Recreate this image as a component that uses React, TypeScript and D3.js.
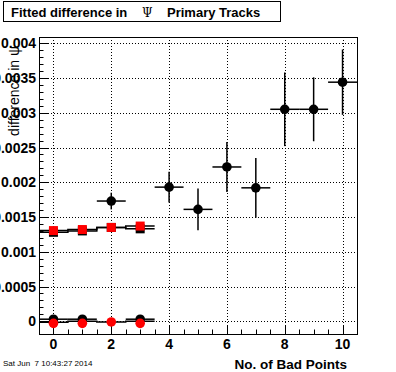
import React, { useEffect, useRef } from 'react';
import * as d3 from 'd3';

// bins 0..3 (two fits on the low side)
const lowBins = [0, 1, 2, 3];
const redSquare = [0.001305, 0.00132, 0.00135, 0.00137];
const blackSquare = [0.00128, 0.0013, 0.00135, 0.00133];
const redCircle = [-0.00003, -0.00003, -0.00001, -0.00003];
const redCircleHist = [-0.000015, 0.0, -0.00001, 0.0];

// black points, all bins
const bins = [0, 1, 2, 3, 4, 5, 6, 7, 8, 9, 10];
const blackCircle = [0.00003, 0.00003, 0.00173, 0.00003, 0.00193, 0.00161, 0.00222, 0.00192, 0.00305, 0.00305, 0.00344];
const blackCircleErr = [0.00001, 0.00001, 0.00012, 0.00001, 0.00022, 0.0003, 0.00036, 0.00043, 0.00053, 0.00046, 0.00047];

const xTicks = [0, 2, 4, 6, 8, 10];
const yTicks = [0, 0.0005, 0.001, 0.0015, 0.002, 0.0025, 0.003, 0.0035, 0.004];

const FONT = 'Liberation Sans, Arial, Helvetica, sans-serif';

const Chart = () => {
    const svgRef = useRef<SVGSVGElement>(null);

    useEffect(() => {
        const svg = d3.select(svgRef.current);
        svg.selectAll('*').remove();

        const left = 39, right = 357, top = 37, bottom = 334;

        const x = d3.scaleLinear().domain([-0.5, 10.5]).range([left, right]);
        const y = d3.scaleLinear().domain([-0.000183, 0.00409]).range([bottom, top]);

        svg.append('rect').attr('width', 396).attr('height', 372).attr('fill', '#fff');

        // grid
        const grid = svg.append('g').attr('stroke', '#000').attr('stroke-dasharray', '1,2').attr('stroke-width', 1);
        xTicks.forEach(t => {
            grid.append('line').attr('x1', Math.round(x(t)) + 0.5).attr('x2', Math.round(x(t)) + 0.5)
                .attr('y1', top).attr('y2', bottom);
        });
        yTicks.forEach(t => {
            grid.append('line').attr('y1', Math.round(y(t)) + 0.5).attr('y2', Math.round(y(t)) + 0.5)
                .attr('x1', left).attr('x2', right);
        });

        // ticks
        const ticks = svg.append('g').attr('stroke', '#000').attr('stroke-width', 1);
        d3.range(0, 0.00409, 0.0001).forEach((t, i) => {
            const major = i % 5 === 0;
            const yy = Math.round(y(t)) + 0.5;
            ticks.append('line').attr('x1', left).attr('x2', left + (major ? 9 : 4.5)).attr('y1', yy).attr('y2', yy);
        });
        d3.range(-0.5, 10.51, 0.5).forEach(t => {
            const major = Math.abs(t % 2) < 1e-9;
            const xx = Math.round(x(t)) + 0.5;
            ticks.append('line').attr('x1', xx).attr('x2', xx).attr('y1', bottom).attr('y2', bottom - (major ? 9 : 4.5));
        });

        // tick labels
        svg.append('g').selectAll('text').data(yTicks).join('text')
            .attr('x', 36).attr('y', d => y(d) + 5)
            .attr('text-anchor', 'end').attr('font-family', FONT).attr('font-weight', 'bold').attr('font-size', 14)
            .text(d => d === 0 ? '0' : String(+d.toFixed(4)));
        svg.append('g').selectAll('text').data(xTicks).join('text')
            .attr('x', d => x(d)).attr('y', 349)
            .attr('text-anchor', 'middle').attr('font-family', FONT).attr('font-weight', 'bold').attr('font-size', 14)
            .text(d => d);

        // step histograms
        const step = (vals: number[]) => {
            let p = '';
            vals.forEach((v, i) => {
                const b = lowBins[i];
                p += (i === 0 ? 'M' : 'L') + x(b - 0.5) + ',' + y(v) + 'L' + x(b + 0.5) + ',' + y(v);
            });
            return p;
        };
        const hists = svg.append('g').attr('fill', 'none').attr('stroke', '#000').attr('stroke-width', 1.5);
        hists.append('path').attr('d', step(redSquare));
        hists.append('path').attr('d', step(blackSquare));
        hists.append('path').attr('d', step(redCircleHist));

        // black squares then red squares
        const sq = 9;
        svg.append('g').selectAll('rect').data(lowBins).join('rect')
            .attr('x', d => x(d) - sq / 2).attr('y', (d, i) => y(blackSquare[i]) - sq / 2)
            .attr('width', sq).attr('height', sq).attr('fill', '#000');
        svg.append('g').selectAll('rect').data(lowBins).join('rect')
            .attr('x', d => x(d) - sq / 2).attr('y', (d, i) => y(redSquare[i]) - sq / 2)
            .attr('width', sq).attr('height', sq).attr('fill', '#ff0000');

        // black circle error bars
        const eb = svg.append('g').attr('stroke', '#000').attr('stroke-width', 1.5);
        bins.forEach((b, i) => {
            eb.append('line').attr('x1', x(b - 0.5)).attr('x2', Math.min(x(b + 0.5), right)).attr('y1', y(blackCircle[i])).attr('y2', y(blackCircle[i]));
            eb.append('line').attr('x1', x(b)).attr('x2', x(b)).attr('y1', y(blackCircle[i] - blackCircleErr[i])).attr('y2', y(blackCircle[i] + blackCircleErr[i]));
        });

        svg.append('g').selectAll('circle').data(bins).join('circle')
            .attr('cx', d => x(d)).attr('cy', (d, i) => y(blackCircle[i])).attr('r', 4.8).attr('fill', '#000');
        svg.append('g').selectAll('circle').data(lowBins).join('circle')
            .attr('cx', d => x(d)).attr('cy', (d, i) => y(redCircle[i])).attr('r', 4.8).attr('fill', '#ff0000');

        // frame
        svg.append('rect').attr('x', left + 0.5).attr('y', top + 0.5).attr('width', right - left).attr('height', bottom - top)
            .attr('fill', 'none').attr('stroke', '#000').attr('stroke-width', 1);

        // title box
        svg.append('rect').attr('x', 3.5).attr('y', 1.5).attr('width', 277).attr('height', 20)
            .attr('fill', '#fff').attr('stroke', '#000').attr('stroke-width', 1);
        const title = svg.append('text').attr('y', 17).attr('font-family', FONT).attr('font-weight', 'bold').attr('font-size', 13);
        title.append('tspan').attr('x', 11).text('Fitted difference in');
        title.append('tspan').attr('x', 142).attr('font-family', 'DejaVu Serif, serif').attr('font-weight', 'normal').attr('font-size', 12).text('Ψ');
        title.append('tspan').attr('x', 167).text('Primary Tracks');

        // axis titles
        svg.append('text').attr('transform', 'translate(19,46) rotate(-90)')
            .attr('text-anchor', 'end').attr('font-family', FONT).attr('font-size', 14)
            .text('difference in ψ');
        svg.append('text').attr('x', 347).attr('y', 369).attr('text-anchor', 'end')
            .attr('font-family', FONT).attr('font-weight', 'bold').attr('font-size', 13.5)
            .text('No. of Bad Points');

        svg.append('text').attr('x', 3).attr('y', 366).attr('font-family', FONT).attr('font-size', 8)
            .attr('xml:space', 'preserve').text('Sat Jun  7 10:43:27 2014');
    }, []);

    return <svg ref={svgRef} width={396} height={372} style={{ display: 'block' }}></svg>;
};

export default function App() {
    return (
        <div style={{ position: 'absolute', left: 0, top: 0 }}>
            <Chart />
        </div>
    );
}
